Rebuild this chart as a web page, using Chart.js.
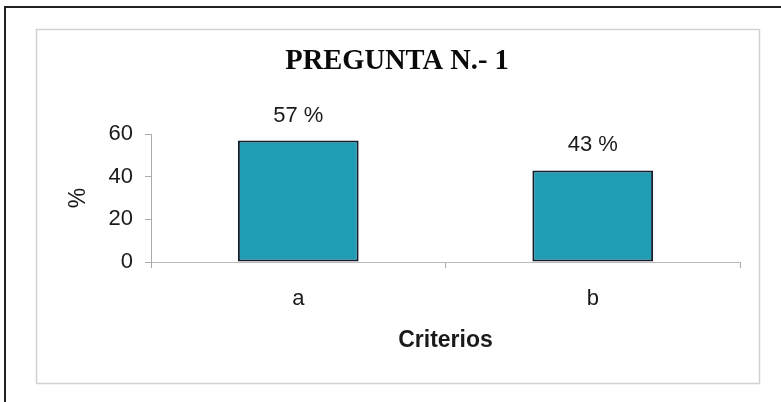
<!DOCTYPE html>
<html>
<head>
<meta charset="utf-8">
<script src="https://cdn.jsdelivr.net/npm/chart.js@4"></script>
<style>
  body { margin: 0; background: #fff; }
  #c { display: block; }
</style>
</head>
<body>
<canvas id="c" width="781" height="402"></canvas>
<script>
const criterios = ['a', 'b'];
const porcentajes = [57, 43];
const etiquetas = ['57 %', '43 %'];
const yTicks = [0, 20, 40, 60];

const sans = '"Liberation Sans", Arial, sans-serif';

// marco exterior y recuadro gris del area del grafico
const marco = {
    id: 'marco',
    beforeDraw(chart) {
        const ctx = chart.ctx;
        ctx.save();
        ctx.fillStyle = '#fff';
        ctx.fillRect(0, 0, chart.width, chart.height);
        ctx.strokeStyle = '#d2d2d2';
        ctx.lineWidth = 1.5;
        ctx.strokeRect(36.5, 29.5, 723, 354);
        ctx.strokeStyle = '#222';
        ctx.lineWidth = 2;
        ctx.beginPath();
        ctx.moveTo(5, 402);
        ctx.lineTo(5, 7);
        ctx.lineTo(781, 7);
        ctx.stroke();
        ctx.restore();
    }
};

// texto encima de cada barra
const etiquetasBarras = {
    id: 'etiquetasBarras',
    afterDatasetsDraw(chart) {
        const ctx = chart.ctx;
        const meta = chart.getDatasetMeta(0);
        ctx.save();
        ctx.font = '22px ' + sans;
        ctx.fillStyle = '#1a1a1a';
        ctx.textAlign = 'center';
        ctx.textBaseline = 'alphabetic';
        meta.data.forEach((bar, i) => {
            ctx.fillText(etiquetas[i], bar.x, bar.y - 19);
        });
        ctx.restore();
    }
};

new Chart(document.getElementById('c'), {
    type: 'bar',
    data: {
        labels: criterios,
        datasets: [{
            data: porcentajes,
            backgroundColor: '#209cb5',
            borderColor: '#141e2a',
            borderWidth: 2,
            borderSkipped: false,
            barPercentage: 0.41,
            categoryPercentage: 1
        }]
    },
    options: {
        responsive: false,
        animation: false,
        layout: { padding: { left: 54, right: 41, top: 30, bottom: 45 } },
        plugins: {
            legend: { display: false },
            tooltip: { enabled: false },
            title: {
                display: true,
                text: 'PREGUNTA N.- 1',
                color: '#0a0a0a',
                font: { family: '"Liberation Serif", "Times New Roman", serif', size: 28.5, weight: 'bold', lineHeight: 1.2 },
                padding: { top: 15, bottom: 55 }
            }
        },
        scales: {
            x: {
                grid: { drawOnChartArea: false, drawTicks: true, tickLength: 6, color: '#aaa' },
                border: { display: true, color: '#bbb' },
                ticks: { color: '#1a1a1a', font: { family: sans, size: 22 }, padding: 18 },
                title: {
                    display: true,
                    text: 'Criterios',
                    color: '#1a1a1a',
                    font: { family: sans, size: 23, weight: 'bold', lineHeight: 1.2 },
                    padding: { top: 0, bottom: 3 }
                },
                afterFit(scale) { scale.height = 95; }
            },
            y: {
                min: 0,
                max: 60,
                afterBuildTicks(scale) { scale.ticks = yTicks.map(v => ({ value: v })); },
                grid: { drawOnChartArea: false, drawTicks: true, tickLength: 6, color: '#aaa' },
                border: { display: true, color: '#aaa' },
                ticks: { color: '#1a1a1a', font: { family: sans, size: 22 }, padding: 12 },
                title: {
                    display: true,
                    text: '%',
                    color: '#1a1a1a',
                    font: { family: sans, size: 23, lineHeight: 1.2 },
                    padding: { top: 10.5, bottom: 0 }
                },
                afterFit(scale) { scale.width = 97; }
            }
        }
    },
    plugins: [marco, etiquetasBarras]
});
</script>
</body>
</html>
